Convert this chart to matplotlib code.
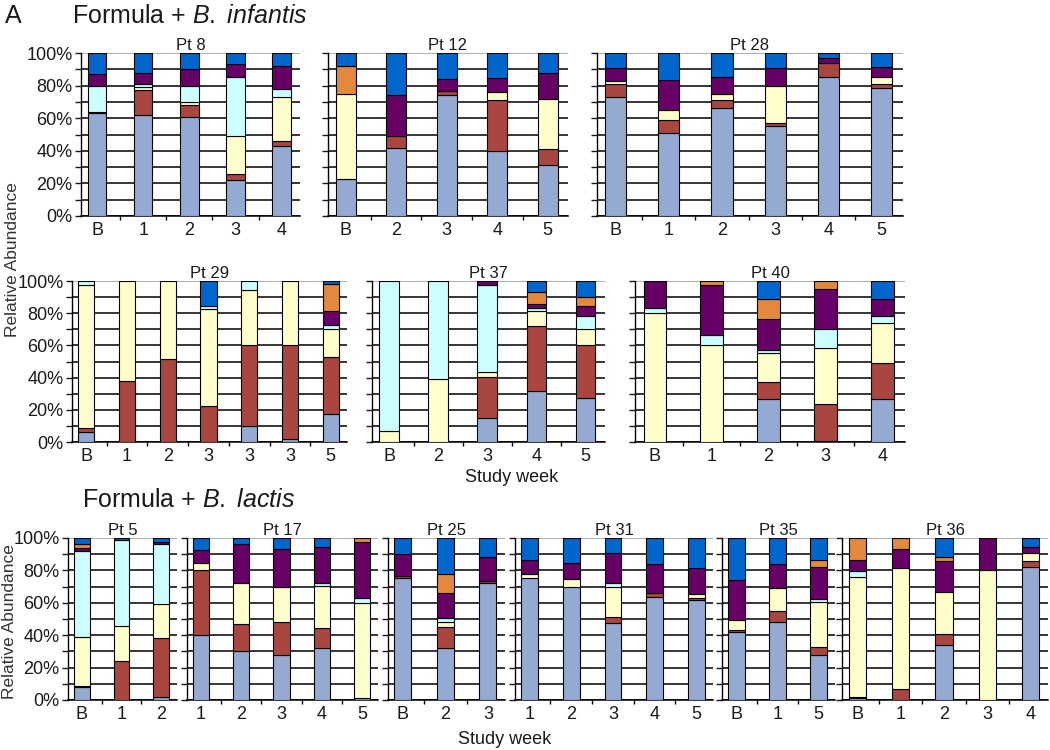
import numpy as np
import matplotlib.pyplot as plt

plt.rcParams['font.family'] = ['Liberation Sans', 'DejaVu Sans']
plt.rcParams['mathtext.fontset'] = 'custom'
plt.rcParams['mathtext.rm'] = 'Liberation Sans'
plt.rcParams['mathtext.it'] = 'Liberation Sans:italic'

# layer colours, bottom to top
colors = ["#94AAD2", "#A8463F", "#FFFFCC", "#CCFFFF", "#660066", "#E3893F", "#0066CC"]

# relative abundance (%) per sample, one row per bar, layers bottom to top
pt8_weeks = ["B", "1", "2", "3", "4"]
pt8 = [[63, 1, 0, 16, 7, 0, 13],
       [62, 15, 2, 2, 7, 0, 12],
       [61, 7, 2, 10, 10, 0, 10],
       [22, 4, 23, 36, 8, 0, 7],
       [43, 3, 27, 5, 14, 0, 8]]

pt12_weeks = ["B", "2", "3", "4", "5"]
pt12 = [[23, 0, 52, 0, 0, 17, 8],
        [42, 7, 0, 0, 25, 0, 26],
        [74, 2.5, 0, 0, 7.5, 0, 16],
        [40, 31, 5, 0, 8.5, 0, 15.5],
        [31, 10, 31, 0, 16, 0, 12]]

pt28_weeks = ["B", "1", "2", "3", "4", "5"]
pt28 = [[73, 8, 2, 0, 8, 0, 9],
        [51, 8, 6, 0, 18.5, 0, 16.5],
        [66, 5, 4, 0, 10, 0, 15],
        [55.5, 1.5, 22.5, 0, 11.5, 0, 9],
        [85, 8.7, 0, 0, 3, 0, 3.3],
        [78.6, 2.4, 4, 0, 6.6, 0, 8.4]]

pt29_weeks = ["B", "1", "2", "3", "3", "3", "5"]
pt29 = [[6, 3, 88.7, 2.3, 0, 0, 0],
        [0, 37.7, 62.3, 0, 0, 0, 0],
        [0, 51.3, 48.7, 0, 0, 0, 0],
        [0, 22.4, 60, 2.3, 0, 0, 15.3],
        [9.7, 50.8, 33.7, 5.8, 0, 0, 0],
        [1.7, 58.8, 39.5, 0, 0, 0, 0],
        [17.4, 35.2, 17.8, 2.5, 8.3, 16.7, 2.1]]

pt37_weeks = ["B", "2", "3", "4", "5"]
pt37 = [[0, 0, 6.8, 93.2, 0, 0, 0],
        [0, 0, 39, 61, 0, 0, 0],
        [15, 25.6, 2.8, 53.9, 2.7, 0, 0],
        [31.6, 40.7, 9.1, 2, 2.3, 7.5, 6.8],
        [27.5, 33, 9.5, 8.3, 5.9, 5.6, 10.2]]

pt40_weeks = ["B", "1", "2", "3", "4"]
pt40 = [[0, 0, 80.3, 2.7, 17, 0, 0],
        [0, 0, 60, 6.6, 30.7, 2.7, 0],
        [26.4, 11.1, 17.6, 2.3, 19, 12.7, 10.9],
        [0.5, 22.9, 35, 11.7, 24.8, 5.1, 0],
        [27, 22, 25, 4, 11, 0, 11]]

pt5_weeks = ["B", "1", "2"]
pt5 = [[7.8, 1, 30.2, 52.8, 2.2, 2.5, 3.5],
       [0, 24.2, 21.4, 53.4, 0, 0, 1],
       [1.6, 36.4, 21.5, 37, 1, 0, 2.5]]

pt17_weeks = ["1", "2", "3", "4", "5"]
pt17 = [[40, 40.2, 4.5, 0, 7.7, 0, 7.6],
        [30, 17, 25.4, 0, 23.6, 0, 4],
        [28, 20, 22, 0, 23.5, 0, 6.5],
        [32, 12.5, 25.9, 2, 21.9, 0, 5.7],
        [1, 0, 58.6, 3.1, 34.9, 2.4, 0]]

pt25_weeks = ["B", "2", "3"]
pt25 = [[75.5, 1, 0, 0, 13.7, 0, 9.8],
        [32, 13.3, 2.7, 2.4, 15.9, 11.3, 22.4],
        [72.2, 1.5, 0, 0, 14.5, 0, 11.8]]

pt31_weeks = ["1", "2", "3", "4", "5"]
pt31 = [[75.5, 0, 2.5, 0, 8.7, 0, 13.3],
        [70, 0, 4.5, 0, 10.2, 0, 15.3],
        [47.3, 3.7, 18.8, 2.6, 18.4, 0, 9.2],
        [63.7, 2.6, 0, 0, 17.7, 0, 16],
        [62, 0.7, 3, 0, 15.9, 0, 18.4]]

pt35_weeks = ["B", "1", "5"]
pt35 = [[42, 1, 6.4, 0, 24.5, 0, 26.1],
        [48, 6.7, 14.7, 0, 14.3, 0, 16.3],
        [28, 5, 27.6, 1.6, 19.8, 4.7, 13.3]]

pt36_weeks = ["B", "1", "2", "3", "4"]
pt36 = [[1.5, 0.5, 74, 3.6, 6.9, 13.5, 0],
        [0, 7, 74.4, 0, 11.9, 6.7, 0],
        [34, 7, 25.7, 0, 19, 2.5, 11.8],
        [0, 0, 80.4, 0, 19.6, 0, 0],
        [82.4, 3.7, 4.7, 0, 4.1, 0, 5.3]]

W, H = 1050, 750
fig = plt.figure(figsize=(W / 100, H / 100), dpi=100)
txt = '#1a1a1a'

# row extents in pixels (top, bottom)
rows = [(53, 216), (281, 442), (538, 700)]

# (title, weeks, data, row, left px, right px, show y labels)
panels = [
    ("Pt 8", pt8_weeks, pt8, 0, 81, 300, True),
    ("Pt 12", pt12_weeks, pt12, 0, 328, 568, False),
    ("Pt 28", pt28_weeks, pt28, 0, 597, 903, False),
    ("Pt 29", pt29_weeks, pt29, 1, 72, 347, True),
    ("Pt 37", pt37_weeks, pt37, 1, 372, 605, False),
    ("Pt 40", pt40_weeks, pt40, 1, 635, 905, False),
    ("Pt 5", pt5_weeks, pt5, 2, 68, 177, True),
    ("Pt 17", pt17_weeks, pt17, 2, 187, 378, False),
    ("Pt 25", pt25_weeks, pt25, 2, 388, 505, False),
    ("Pt 31", pt31_weeks, pt31, 2, 515, 713, False),
    ("Pt 35", pt35_weeks, pt35, 2, 722, 835, False),
    ("Pt 36", pt36_weeks, pt36, 2, 842, 1048, False),
]


def draw(title, weeks, data, row, x0, x1, ylab):
    top, bot = rows[row]
    ax = fig.add_axes([x0 / W, 1 - bot / H, (x1 - x0) / W, (bot - top) / H])
    vals = np.array(data, float)
    vals = vals / vals.sum(axis=1, keepdims=True) * 100
    x = np.arange(len(weeks))
    bottom = np.zeros(len(weeks))
    for k in range(vals.shape[1]):
        m = vals[:, k] > 0
        ax.bar(x[m], vals[m, k], 0.4, bottom=bottom[m], color=colors[k],
               edgecolor='black', linewidth=0.8, zorder=3)
        bottom += vals[:, k]

    ax.set_xlim(-0.35, len(weeks) - 0.6)
    ax.set_ylim(0, 100)
    ax.set_yticks(range(0, 101, 10))
    if ylab:
        ax.set_yticklabels([f"{v}%" if v % 20 == 0 else "" for v in range(0, 101, 10)])
    else:
        ax.set_yticklabels([])
    ax.yaxis.grid(True, color='black', lw=1.1)
    ax.get_ygridlines()[-1].set_color('#999999')
    ax.set_axisbelow(True)
    ax.set_xticks(x)
    ax.set_xticklabels(weeks)
    ax.set_xticks(x[:-1] + 0.5, minor=True)
    ax.tick_params(axis='x', which='major', length=0, labelsize=13, pad=4, colors=txt)
    ax.tick_params(axis='x', which='minor', length=3, width=1)
    ax.tick_params(axis='y', length=4, width=1, labelsize=13, colors=txt, pad=2)
    for s in ['top', 'right']:
        ax.spines[s].set_visible(False)
    ax.spines['bottom'].set_linewidth(1.1)
    ax.spines['left'].set_linewidth(1.0)
    ax.set_title(title, fontsize=12, color=txt, pad=2)
    return ax


for p in panels:
    draw(*p)

fig.text(5 / W, 1 - 23 / H, "A", fontsize=18, color=txt, va='baseline')
fig.text(72 / W, 1 - 23 / H, r"Formula + $\it{B.\ infantis}$", fontsize=18, color=txt, va='baseline')
fig.text(82 / W, 1 - 507 / H, r"Formula + $\it{B.\ lactis}$", fontsize=18, color=txt, va='baseline')

fig.text(13 / W, 1 - 260 / H, "Relative Abundance", rotation=90, fontsize=12.5,
         color='#333333', ha='center', va='center')
fig.text(10 / W, 1 - 622 / H, "Relative Abundance", rotation=90, fontsize=12.5,
         color='#333333', ha='center', va='center')
fig.text(512 / W, 1 - 477 / H, "Study week", fontsize=13, color=txt, ha='center', va='center')
fig.text(505 / W, 1 - 740 / H, "Study week", fontsize=13, color=txt, ha='center', va='center')

fig.savefig("out.png", dpi=100)
